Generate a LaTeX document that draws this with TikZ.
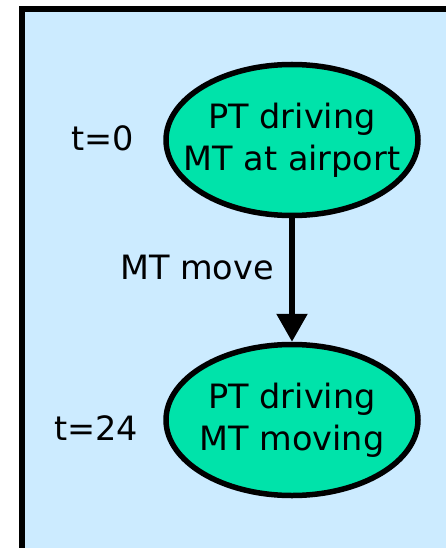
\documentclass[tikz,border=0pt]{standalone}
\usepackage{fontspec}
\setmainfont{DejaVu Sans}
\usetikzlibrary{arrows.meta,shapes.geometric}

\definecolor{panelblue}{RGB}{204,235,255}
\definecolor{stategreen}{RGB}{0,227,170}

\begin{document}
\begin{tikzpicture}[
  x=1pt,y=-1pt,
  state/.style={draw,ellipse,line width=5.5pt,fill=stategreen,minimum width=252pt,minimum height=151pt,
    inner xsep=-30pt,inner ysep=0pt,align=center,font=\fontsize{33.5}{42}\selectfont},
  timelabel/.style={font=\fontsize{33.5}{40}\selectfont}
]
  \useasboundingbox (0,0) rectangle (446,548);
  \clip (0,0) rectangle (446,548);
  \draw[line width=6pt,fill=panelblue] (22,9) rectangle (470,580);

  \node[state] (start) at (292,140) {PT driving\\MT at airport};
  \node[state] (moving) at (292,420) {PT driving\\MT moving};

  \node[timelabel] (t0) at (103,138) {t=0};
  \node[timelabel] (t24) at (96,428) {t=24};

  \draw[line width=5.5pt,-{Triangle[length=28pt,width=30pt]}] (start.south) -- (moving.north)
    node[pos=0.4,left=12pt,timelabel] (move) {MT move};
\end{tikzpicture}
\end{document}
